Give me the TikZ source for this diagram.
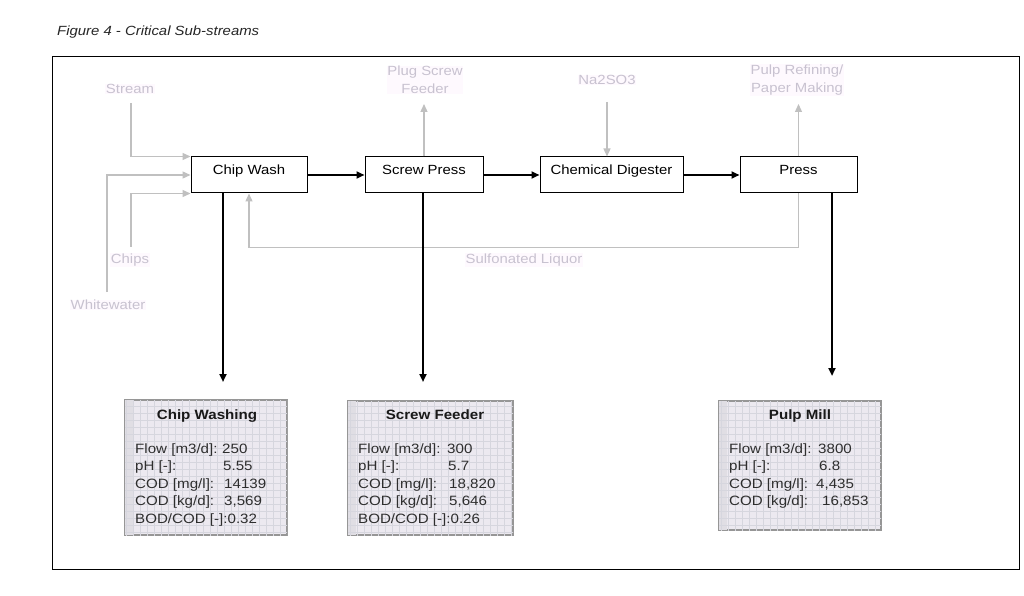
\documentclass[tikz,border=0pt]{standalone}
\usepackage{fontspec}
\setmainfont{Liberation Sans}[FakeStretch=1.12]
\usetikzlibrary{arrows.meta}
\definecolor{lblgray}{RGB}{200,194,208}
\definecolor{linegray}{RGB}{192,192,192}
\definecolor{hl}{RGB}{254,249,254}
\definecolor{gridbg}{RGB}{236,233,240}
\definecolor{gridln}{RGB}{214,214,222}
\definecolor{gridstrip}{RGB}{224,222,228}
\definecolor{boxedge}{RGB}{150,150,150}
\begin{document}
\begin{tikzpicture}[x=1bp,y=-1bp,
  every node/.style={font=\fontsize{13.3bp}{18bp}\selectfont, inner sep=0pt},
  proc/.style={draw=black, line width=1bp, minimum height=36bp, text height=9.5bp, text depth=10.5bp, fill=white},
  lbl/.style={text=lblgray, fill=hl, inner sep=0.5pt, align=center},
  barrow/.style={draw=black, line width=2bp, -{Triangle[length=8bp,width=7bp]}},
  garrow/.style={draw=linegray, line width=1.3bp, -{Triangle[length=8bp,width=7bp]}},
  databox/.style={draw=boxedge, line width=2bp, fill=gridbg},
  dtitle/.style={font=\fontsize{13.5bp}{18bp}\selectfont\bfseries, anchor=base, text=black!90},
  dtext/.style={font=\fontsize{13.5bp}{18bp}\selectfont, text=black!82, anchor=base west},
]
\useasboundingbox (0,0) rectangle (1024,596);
\fill[white] (0,0) rectangle (1024,596);

% title and frame
\node[anchor=west, font=\fontsize{13.3bp}{18bp}\selectfont\itshape, text=black!85] (title) at (57,32) {Figure 4 - Critical Sub-streams};
\draw[black, line width=1bp] (52,57) rectangle (1019,569);

% process boxes
\node[proc, minimum width=116bp] (cw) at (249,175) {Chip Wash};
\node[proc, minimum width=118bp] (sp) at (424,175) {Screw Press};
\node[proc, minimum width=143bp] (cd) at (611.5,175) {Chemical Digester};
\node[proc, minimum width=117bp] (pr) at (798.5,175) {Press};

% gray labels
\node[lbl] (st) at (130,89) {Stream};
\node[lbl] (chl) at (130,260) {Chips};
\node[lbl] (ww) at (108,305) {Whitewater};
\node[lbl] (psf) at (425,80) {Plug Screw\\Feeder};
\node[lbl] (na) at (607,80) {Na2SO3};
\node[lbl] (prf) at (797,80) {Pulp Refining/\\Paper Making};
\node[lbl] (sl) at (524,260) {Sulfonated Liquor};

% gray connectors
\coordinate (stS) at (131,103);
\coordinate (wwS) at (107,292);
\coordinate (chS) at (131,247);
\coordinate (psT) at (424,104);
\coordinate (naB) at (607,102);
\coordinate (prT) at (798.5,104);
\draw[garrow] (stS) |- (cw.north west);
\draw[garrow] (wwS) |- (cw.west);
\draw[garrow] (chS) |- (cw.south west);
\draw[garrow] (sp.north) -- (psT);
\draw[garrow] (naB) -- (cd.north -| naB);
\draw[garrow] (pr.north) -- (prT);
\draw[garrow] (pr.south) -- ++(0,54) -| (cw.south);

% black connectors
\draw[barrow] (cw.east) -- (sp.west);
\draw[barrow] (sp.east) -- (cd.west);
\draw[barrow] (cd.east) -- (pr.west);
\coordinate (cwend) at (223,382);
\coordinate (spend) at (423,382);
\coordinate (prend) at (832,376);
\draw[barrow] (cw.south -| cwend) -- (cwend);
\draw[barrow] (sp.south -| spend) -- (spend);
\draw[barrow] (pr.south -| prend) -- (prend);

% data boxes
\node[databox, minimum width=162bp, minimum height=135bp] (dcw) at (206,467.5) {};
\node[databox, minimum width=165bp, minimum height=134bp] (dsf) at (430.5,468) {};
\node[databox, minimum width=162bp, minimum height=129bp] (dpm) at (800,465.5) {};
\foreach \b in {dcw,dsf,dpm}{
  \begin{scope}
    \clip ([shift={(1,1)}]\b.north west) rectangle ([shift={(-1,-1)}]\b.south east);
    \fill[gridstrip] ([shift={(1,1)}]\b.north west) rectangle ([shift={(9,-1)}]\b.south west);
    \draw[gridln, line width=0.7bp] (\b.north west) grid[step=7bp] (\b.south east);
  \end{scope}
}

% Chip Washing
\node[dtitle] (t1) at (207,419) {Chip Washing};
\node[dtext] (a1) at (135,453) {Flow [m3/d]:};
\node[dtext] (a2) at (135,470.5) {pH [-]:};
\node[dtext] (a3) at (135,488) {COD [mg/l]:};
\node[dtext] (a4) at (135,505.5) {COD [kg/d]:};
\node[dtext] (a5) at (135,523) {BOD/COD [-]:0.32};
\node[dtext] (v1) at (222,453) {250};
\node[dtext] (v2) at (223,470.5) {5.55};
\node[dtext] (v3) at (224,488) {14139};
\node[dtext] (v4) at (224,505.5) {3,569};

% Screw Feeder
\node[dtitle] (t2) at (435,419) {Screw Feeder};
\node[dtext] (b1) at (358,453) {Flow [m3/d]:};
\node[dtext] (b2) at (358,470.5) {pH [-]:};
\node[dtext] (b3) at (358,488) {COD [mg/l]:};
\node[dtext] (b4) at (358,505.5) {COD [kg/d]:};
\node[dtext] (b5) at (358,523) {BOD/COD [-]:0.26};
\node[dtext] (w1) at (447,453) {300};
\node[dtext] (w2) at (448,470.5) {5.7};
\node[dtext] (w3) at (449,488) {18,820};
\node[dtext] (w4) at (449,505.5) {5,646};

% Pulp Mill
\node[dtitle] (t3) at (800,419) {Pulp Mill};
\node[dtext] (c1) at (729,453) {Flow [m3/d]:};
\node[dtext] (c2) at (729,470.5) {pH [-]:};
\node[dtext] (c3) at (729,488) {COD [mg/l]:};
\node[dtext] (c4) at (729,505.5) {COD [kg/d]:};
\node[dtext] (u1) at (818,453) {3800};
\node[dtext] (u2) at (819,470.5) {6.8};
\node[dtext] (u3) at (816,488) {4,435};
\node[dtext] (u4) at (822,505.5) {16,853};
\end{tikzpicture}
\end{document}
